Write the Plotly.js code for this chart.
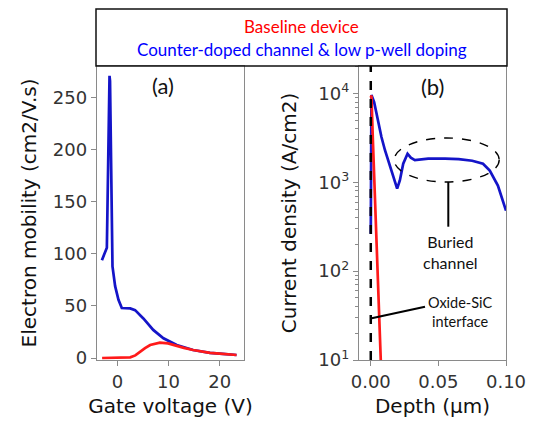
<!DOCTYPE html>
<html>
<head>
<meta charset="utf-8">
<script src="https://cdn.plot.ly/plotly-3.0.1.min.js"></script>
<style>html,body{margin:0;padding:0;background:#fff;}#chart{width:536px;height:422px;}</style>
</head>
<body>
<div id="chart"></div>
<script>
// Panel (a): electron mobility vs gate voltage
const gateBaseline = [-3, -1.4, 0, 1, 2, 2.5, 3.5, 4.4, 5.4, 6.4, 7.4, 8.3, 9.9, 11.6, 13, 14.8, 18.1, 20, 23.3];
const mobBaseline  = [0, 0, 0, 0.1, 0.4, 0.7, 2.5, 6, 9.5, 12.5, 14, 14.7, 14, 11.5, 9.7, 7.7, 5, 4.2, 2.9];
const gateCounter  = [-3.04, -2.5, -2.07, -1.55, -1.45, -0.97, -0.45, 0.2, 0.85, 2.5, 3.45, 5.07, 7.0, 9.0, 11.6, 14.8, 18.1, 20, 23.3];
const mobCounter   = [94, 100, 106, 271, 266, 88, 69, 56, 48, 47.7, 46, 38, 27, 19, 12.5, 7.7, 5, 4.2, 2.9];

// Panel (b): current density vs depth
const depthBaseline = [0, 0.0005, 0.0015, 0.0025, 0.0035, 0.0047, 0.006, 0.0074, 0.009];
const jBaseline     = [9000, 9500, 3200, 1100, 370, 100, 33, 10, 3];
const depthCounter  = [0, 0.0005, 0.0025, 0.005, 0.0079, 0.0105, 0.0128, 0.0165, 0.0195, 0.0215, 0.024, 0.0272, 0.0296, 0.0326, 0.0425, 0.055, 0.065, 0.075, 0.083, 0.088, 0.094, 0.1];
const jCounter      = [263, 9600, 8000, 5200, 3240, 2300, 1770, 1150, 850, 1050, 1620, 2100, 1900, 1780, 1850, 1850, 1830, 1750, 1620, 1360, 920, 480];

const legendLabels = ['Baseline device', 'Counter-doped channel & low p-well doping'];
const logTickVals = [10, 100, 1000, 10000];
const logTickText = ['10<sup>1</sup>', '10<sup>2</sup>', '10<sup>3</sup>', '10<sup>4</sup>'];

// minor tick positions (2..9 within each decade)
const minorVals = [];
[10, 100, 1000, 10000].forEach(d => { for (let k = 2; k <= 9; k++) minorVals.push(d * k); });

const RED = '#ff1a1a', BLUE = '#1414c8';
const W = 536, H = 422;
const px = v => v / W, py = v => 1 - v / H;

const traces = [
  {x: gateCounter, y: mobCounter, xaxis: 'x', yaxis: 'y', mode: 'lines', line: {color: BLUE, width: 2.7}, name: legendLabels[1], showlegend: false},
  {x: gateBaseline, y: mobBaseline, xaxis: 'x', yaxis: 'y', mode: 'lines', line: {color: RED, width: 2.7}, name: legendLabels[0], showlegend: false},
  {x: depthCounter, y: jCounter, xaxis: 'x2', yaxis: 'y2', mode: 'lines', line: {color: BLUE, width: 2.7}, name: legendLabels[1], showlegend: false},
  {x: depthBaseline, y: jBaseline, xaxis: 'x2', yaxis: 'y2', mode: 'lines', line: {color: RED, width: 2.7}, name: legendLabels[0], showlegend: false}
];

const tickFont = {family: 'DejaVu Sans', size: 18, color: '#333'};
const titleFont = {family: 'DejaVu Sans', size: 20, color: '#111'};
const axBase = {showgrid: false, zeroline: false, showline: true, mirror: true, linecolor: '#8a8a8a', linewidth: 1.2,
  ticks: 'outside', ticklen: 5, tickcolor: '#8a8a8a', tickfont: tickFont};
const yDom = [py(360), py(66)];

const layout = {
  width: W, height: H,
  margin: {l: 0, r: 0, t: 0, b: 0},
  paper_bgcolor: '#fff', plot_bgcolor: '#fff',
  showlegend: false,
  xaxis: Object.assign({}, axBase, {domain: [px(97), px(244)], range: [-4.0, 24.76], tickvals: [0, 10, 20],
    title: {text: 'Gate voltage (V)', font: titleFont, standoff: 8}, anchor: 'y'}),
  yaxis: Object.assign({}, axBase, {domain: yDom, range: [-1.9, 280.5], tickvals: [0, 50, 100, 150, 200, 250],
    title: {text: 'Electron mobility (cm2/V.s)', font: titleFont, standoff: 10}, anchor: 'x'}),
  xaxis2: Object.assign({}, axBase, {domain: [px(359), px(506)], range: [-0.0087, 0.1], tickvals: [0, 0.05, 0.1], tickformat: '.2f',
    title: {text: 'Depth (µm)', font: titleFont, standoff: 8}, anchor: 'y2'}),
  yaxis2: Object.assign({}, axBase, {domain: yDom, type: 'log', range: [1, 4.31], tickmode: 'array', tickvals: logTickVals, ticktext: logTickText,
    minor: {tickmode: 'array', tickvals: minorVals, ticks: 'outside', ticklen: 3, tickcolor: '#8a8a8a', showgrid: false},
    title: {text: 'Current density (A/cm2)', font: titleFont, standoff: 16}, anchor: 'x2'}),
  shapes: [
    // legend box
    {type: 'rect', xref: 'paper', yref: 'paper', x0: px(96), x1: px(507), y0: py(66), y1: py(9), line: {color: '#111', width: 1.5}, fillcolor: 'rgba(0,0,0,0)'},
    // interface dashed line
    {type: 'line', xref: 'x2', yref: 'paper', x0: 0, x1: 0, y0: py(360), y1: py(66), line: {color: '#000', width: 2.5, dash: 'dash'}},
    // buried channel ellipse
    {type: 'circle', xref: 'paper', yref: 'paper', x0: px(394.2), x1: px(499.2), y0: py(182), y1: py(138), line: {color: '#000', width: 1.4, dash: 'dash'}},
    // buried channel pointer
    {type: 'line', xref: 'paper', yref: 'paper', x0: px(448.3), x1: px(448.3), y0: py(182), y1: py(226.7), line: {color: '#000', width: 2}},
    // oxide-SiC pointer
    {type: 'line', xref: 'paper', yref: 'paper', x0: px(371.7), x1: px(425), y0: py(318.3), y1: py(306.7), line: {color: '#000', width: 2.2}}
  ],
  annotations: [
    {xref: 'paper', yref: 'paper', x: px(301.5), y: py(26.5), text: legendLabels[0], showarrow: false, font: {family: 'Lato', size: 17, color: '#ff0000'}, xanchor: 'center', yanchor: 'middle'},
    {xref: 'paper', yref: 'paper', x: px(301.5), y: py(49.5), text: legendLabels[1], showarrow: false, font: {family: 'Lato', size: 17, color: '#0000ff'}, xanchor: 'center', yanchor: 'middle'},
    {xref: 'paper', yref: 'paper', x: px(163), y: py(85), text: '(a)', showarrow: false, font: {family: 'Lato', size: 22, color: '#111'}, xanchor: 'center', yanchor: 'middle'},
    {xref: 'paper', yref: 'paper', x: px(432), y: py(87), text: '(b)', showarrow: false, font: {family: 'Lato', size: 22, color: '#111'}, xanchor: 'center', yanchor: 'middle'},
    {xref: 'paper', yref: 'paper', x: px(450), y: py(251.7), text: 'Buried<br>channel', showarrow: false, font: {family: 'Lato', size: 16, color: '#111'}, xanchor: 'center', yanchor: 'middle'},
    {xref: 'paper', yref: 'paper', x: px(460), y: py(312), text: 'Oxide-SiC<br>interface', showarrow: false, font: {family: 'Lato', size: 14.5, color: '#111'}, xanchor: 'center', yanchor: 'middle'}
  ]
};

Plotly.newPlot('chart', traces, layout, {displayModeBar: false, staticPlot: true});
</script>
</body>
</html>
